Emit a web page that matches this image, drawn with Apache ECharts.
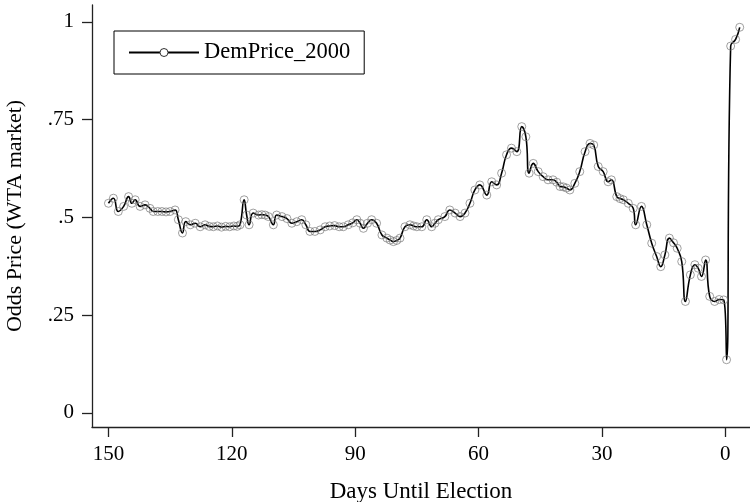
<!DOCTYPE html>
<html>
<head>
<meta charset="utf-8">
<script src="https://cdn.jsdelivr.net/npm/echarts@6/dist/echarts.min.js"></script>
<style>
html,body{margin:0;padding:0;background:#fff;}
#chart{width:750px;height:502px;}
</style>
</head>
<body>
<div id="chart"></div>
<script>
// Days until election (x) and DemPrice_2000 odds price (y)
const days = [
150.0,148.8,147.6,146.3,145.1,144.3,143.5,142.3,141.1,139.9,139.1,138,137,136,135,133.8,133.0,132.0,131.2,130.1,
128.9,127.7,126.5,125.5,124.5,123.5,122.5,121.5,120.5,119.5,118.7,118.0,117.0,116.4,115.8,114.8,113.5,112.7,111.9,111.1,
109.9,109.1,107.8,106.6,105.4,104.2,103.0,102.0,101.0,99.8,98.5,97.3,96.2,95.0,93.9,92.9,91.7,90.6,89.6,88.8,
88.0,87.0,86.0,84.8,83.5,82.3,81.5,80.7,79.9,79.1,77.9,76.7,75.8,75.0,73.8,72.6,71.4,70.6,69.8,68.2,
67.0,65.7,64.5,63.3,62.1,60.9,59.7,58.0,56.8,55.6,54.4,53.2,52.0,50.7,49.5,48.5,47.7,46.7,45.5,44.3,
43.1,41.9,41.0,40.2,39.4,38.6,37.8,36.6,35.4,34.1,32.9,32.0,30.9,29.7,28.5,27.7,26.4,25.6,24.8,23.6,
22.4,21.8,20.4,19.1,17.9,16.7,15.7,14.7,13.6,12.6,11.7,10.6,9.7,8.5,7.4,6.6,5.8,4.8,3.8,2.6,
1.5,0.4,-0.3,-1.3,-2.5,-3.5
];
const demPrice = [
0.536,0.549,0.515,0.528,0.553,0.536,0.545,0.528,0.532,0.523,0.515,0.515,0.515,0.514,0.515,0.519,0.494,0.460,0.489,0.481,
0.485,0.476,0.481,0.477,0.476,0.478,0.475,0.477,0.476,0.478,0.477,0.481,0.545,0.506,0.481,0.511,0.506,0.507,0.506,0.502,
0.481,0.506,0.502,0.497,0.485,0.489,0.494,0.481,0.464,0.464,0.468,0.476,0.478,0.479,0.476,0.476,0.481,0.486,0.494,0.485,
0.472,0.485,0.494,0.485,0.455,0.447,0.442,0.438,0.441,0.447,0.476,0.481,0.478,0.476,0.476,0.494,0.476,0.485,0.494,0.502,
0.519,0.511,0.502,0.511,0.536,0.570,0.583,0.557,0.591,0.583,0.613,0.660,0.677,0.668,0.732,0.706,0.613,0.638,0.617,0.604,
0.596,0.596,0.590,0.579,0.578,0.575,0.570,0.587,0.617,0.668,0.689,0.685,0.630,0.617,0.591,0.596,0.553,0.548,0.545,0.536,
0.523,0.481,0.528,0.481,0.434,0.400,0.374,0.404,0.447,0.435,0.421,0.387,0.285,0.353,0.379,0.370,0.349,0.391,0.298,0.285,
0.290,0.289,0.136,0.938,0.955,0.986
];
const xTicks = [0, 30, 60, 90, 120, 150];
const yTicks = [0, 0.25, 0.5, 0.75, 1];
const seriesName = 'DemPrice_2000';
const xTitle = 'Days Until Election';
const yTitle = 'Odds Price (WTA market)';

const FONT = 'Liberation Serif';
const chart = echarts.init(document.getElementById('chart'), null, {renderer: 'canvas'});
const data = days.map((d, i) => [d, demPrice[i]]);

chart.setOption({
  animation: false,
  backgroundColor: '#fff',
  grid: {left: 92, right: 0, top: 5, bottom: 75, outerBoundsMode: 'none'},
  legend: {
    left: 114, top: 31,
    orient: 'horizontal',
    backgroundColor: '#fff',
    borderColor: '#000', borderWidth: 1, borderRadius: 0,
    padding: [10, 14, 10, 14],
    itemWidth: 70, itemHeight: 10,
    textStyle: {fontFamily: FONT, fontSize: 22.5, color: '#000'},
    data: [{name: seriesName, itemStyle: {color: '#fff', borderColor: '#333', borderWidth: 1}}]
  },
  xAxis: {
    type: 'value', inverse: true, min: -6, max: 154,
    name: xTitle, nameLocation: 'middle', nameGap: 53,
    nameTextStyle: {fontFamily: FONT, fontSize: 23, color: '#000'},
    axisLine: {show: true, onZero: false, lineStyle: {color: '#222', width: 1.3}},
    axisTick: {show: true, length: 10, lineStyle: {color: '#222', width: 1.3}, customValues: xTicks},
    axisLabel: {fontFamily: FONT, fontSize: 21, color: '#000', margin: 17, customValues: xTicks},
    splitLine: {show: false}
  },
  yAxis: {
    type: 'value', min: -0.036, max: 1.043,
    name: yTitle, nameLocation: 'middle', nameGap: 66,
    nameTextStyle: {fontFamily: FONT, fontSize: 22, color: '#000'},
    axisLine: {show: true, onZero: false, lineStyle: {color: '#222', width: 1.3}},
    axisTick: {show: true, length: 10, lineStyle: {color: '#222', width: 1.3}, customValues: yTicks},
    axisLabel: {
      fontFamily: FONT, fontSize: 21, color: '#000', margin: 18, customValues: yTicks,
      formatter: v => (v === 0 ? '0' : v === 1 ? '1' : String(v).replace(/^0/, ''))
    },
    splitLine: {show: false}
  },
  series: [{
    name: seriesName,
    type: 'line',
    data: data,
    smooth: 0.5,
    symbol: 'circle',
    symbolSize: 8,
    showAllSymbol: true,
    lineStyle: {color: '#000', width: 1.6},
    itemStyle: {color: 'rgba(255,255,255,0)', borderColor: '#777', borderWidth: 0.7}
  }]
});
</script>
</body>
</html>
